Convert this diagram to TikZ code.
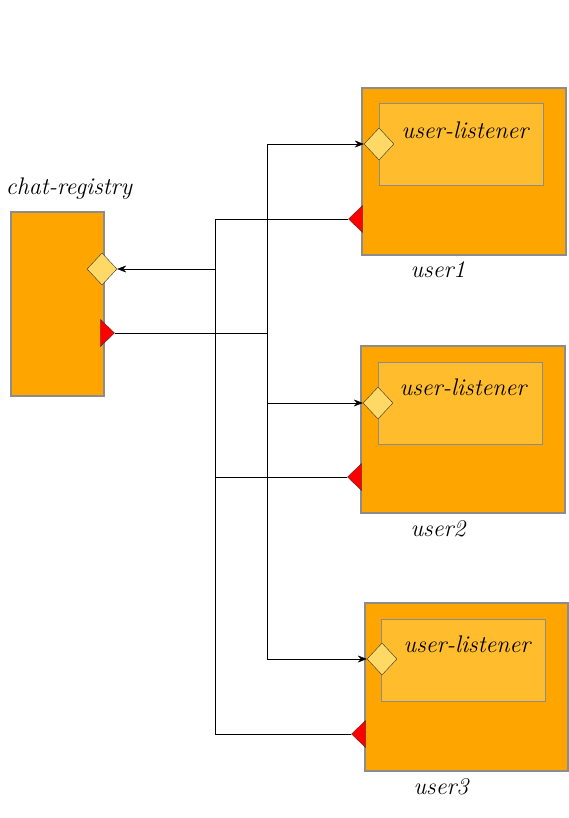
\documentclass[tikz,border=0pt]{standalone}
\usepackage{tikz}
\usetikzlibrary{positioning,calc,arrows.meta,shapes.geometric}
\usepackage{xcolor}
\definecolor{boxorange}{HTML}{FFA500}
\definecolor{listenerorange}{HTML}{FFBC2C}
\definecolor{portyellow}{HTML}{FFD966}
\definecolor{boxgray}{HTML}{8C8C8C}

\begin{document}
\begin{tikzpicture}[x=1pt,y=-1pt,>={Stealth[length=9pt,width=7pt,inset=3pt]},
    component node/.style={rectangle,draw=boxgray,line width=1.2pt,fill=boxorange},
    listener node/.style={rectangle,draw=boxgray,line width=1pt,fill=listenerorange,
      minimum width=164pt,minimum height=82pt},
    in port/.style={diamond,draw=black!80,fill=portyellow,inner sep=0pt,
      minimum width=30pt,minimum height=32pt},
    out port/.style={isosceles triangle,isosceles triangle stretches,draw=black!80,
      fill=red,inner sep=0pt,minimum width=27pt,minimum height=14pt,anchor=apex},
    name label/.style={font=\itshape\fontsize{24}{28}\selectfont}]
    \useasboundingbox (0,0) rectangle (569,818);
    % nodes
      \node[component node,minimum width=93pt,minimum height=184pt] (registry) at (57.5,304) {};
      \node[name label] (registry label) at (69,189) {chat-registry};
      \node[in port] (registry in) at (102,269) {};
      \node[out port] (registry out) at (115,333) {};

      \node[component node,minimum width=204pt,minimum height=167pt] (user1) at (464,171.5) {};
      \node[listener node] (listener1) at (461,145) {};
      \node[name label] (listener1 label) at (465,130) {user-listener};
      \node[in port] (user1 in) at (379,144) {};
      \node[out port,shape border rotate=180] (user1 out) at (348,219) {};
      \node[name label] (user1 label) at (438,270) {user1};

      \node[component node,minimum width=204pt,minimum height=167pt] (user2) at (463,429.5) {};
      \node[listener node] (listener2) at (460,403.5) {};
      \node[name label] (listener2 label) at (463,387) {user-listener};
      \node[in port] (user2 in) at (378,403) {};
      \node[out port,shape border rotate=180] (user2 out) at (347,477) {};
      \node[name label] (user2 label) at (438,529) {user2};

      \node[component node,minimum width=203pt,minimum height=168pt] (user3) at (466.5,687) {};
      \node[listener node] (listener3) at (463,660) {};
      \node[name label] (listener3 label) at (467,644) {user-listener};
      \node[in port] (user3 in) at (382,659) {};
      \node[out port,shape border rotate=180] (user3 out) at (351,734) {};
      \node[name label] (user3 label) at (441,787) {user3};
      \coordinate (left bus) at (215,269);
      \coordinate (right bus) at (267,333);
      %edges
      \draw (user1 out.apex) -| (left bus);
      \draw (user2 out.apex) -| (left bus);
      \draw (user3 out.apex) -| (left bus);
      \draw[->] (left bus) -- (registry in.east);
      \draw (registry out.apex) -- (right bus);
      \draw[->] (right bus) |- (user1 in.west);
      \draw[->] (right bus) |- (user2 in.west);
      \draw[->] (right bus) |- (user3 in.west);
    \end{tikzpicture}
\end{document}
